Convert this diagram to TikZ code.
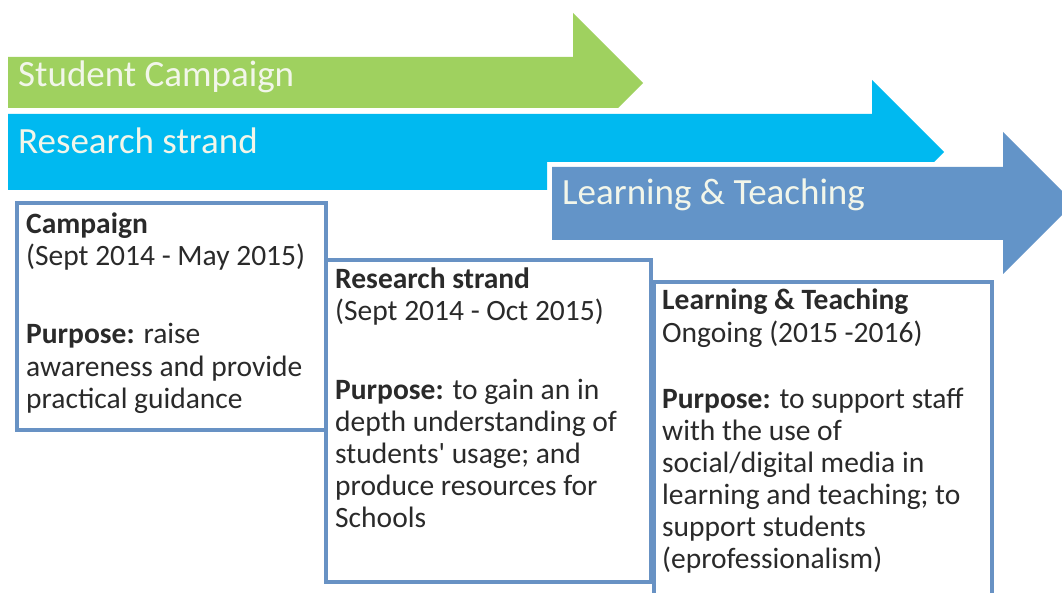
\documentclass[tikz,border=0pt]{standalone}
\usepackage{fontspec}
\setmainfont{Carlito}
\definecolor{sgreen}{HTML}{9FD15F}
\definecolor{rblue}{HTML}{00B9F0}
\definecolor{ltblue}{HTML}{6394C8}
\definecolor{boxblue}{HTML}{6892C4}
\definecolor{arrtext}{HTML}{F2F6EA}
\definecolor{bodytext}{HTML}{2A2A2A}
\tikzset{
  arrowlabel/.style={anchor=base west, inner sep=0pt, text=arrtext, font=\fontsize{37}{44}\selectfont},
  tbox/.style={draw=boxblue, line width=4pt, fill=white},
  line/.style={anchor=base west, inner sep=0pt, text=bodytext, font=\fontsize{29.5}{32}\selectfont},
}
\begin{document}
\begin{tikzpicture}[x=1pt,y=-1pt]
\useasboundingbox (0,0) rectangle (1062,593);
\clip (0,0) rectangle (1062,593);
% arrows
\fill[sgreen] (8,57) -- (573,57) -- (573,13) -- (643,83) -- (618,108) -- (8,108) -- cycle;
\fill[rblue] (8,114) -- (872,114) -- (872,80) -- (944,152) -- (934,162) -- (547,162) -- (547,190) -- (8,190) -- cycle;
\fill[ltblue] (552,167) -- (1003,167) -- (1003,132) -- (1074,203) -- (1003,274) -- (1003,240) -- (552,240) -- cycle;
\node[arrowlabel] (lsc) at (18,87) {Student Campaign};
\node[arrowlabel] (lrs) at (18,154) {Research strand};
\node[arrowlabel] (llt) at (562,205) {Learning \& Teaching};
% boxes
\draw[tbox] (17,203) rectangle (326,430);
\draw[tbox] (326,260) rectangle (651,582);
\draw[tbox] (654,282) rectangle (992,640);
% box 1 text
\node[line] (a1) at (26,234) {\textbf{Campaign}};
\node[line] (a2) at (26,266) {(Sept 2014 - May 2015)};
\node[line] (a3) at (26,344) {\textbf{Purpose:} raise};
\node[line] (a4) at (26,376) {awareness and provide};
\node[line] (a5) at (26,408) {practical guidance};
% box 2 text
\node[line] (b1) at (335,289) {\textbf{Research strand}};
\node[line] (b2) at (335,321) {(Sept 2014 - Oct 2015)};
\node[line] (b3) at (335,399) {\textbf{Purpose:} to gain an in};
\node[line] (b4) at (335,431) {depth understanding of};
\node[line] (b5) at (335,463) {students\textquotesingle{} usage; and};
\node[line] (b6) at (335,495) {produce resources for};
\node[line] (b7) at (335,527) {Schools};
% box 3 text
\node[line] (c1) at (662,310) {\textbf{Learning \& Teaching}};
\node[line] (c2) at (662,342) {Ongoing (2015 -2016)};
\node[line] (c3) at (662,408) {\textbf{Purpose:} to support staff};
\node[line] (c4) at (662,440) {with the use of};
\node[line] (c5) at (662,472) {social/digital media in};
\node[line] (c6) at (662,504) {learning and teaching; to};
\node[line] (c7) at (662,536) {support students};
\node[line] (c8) at (662,568) {(eprofessionalism)};
\end{tikzpicture}
\end{document}
